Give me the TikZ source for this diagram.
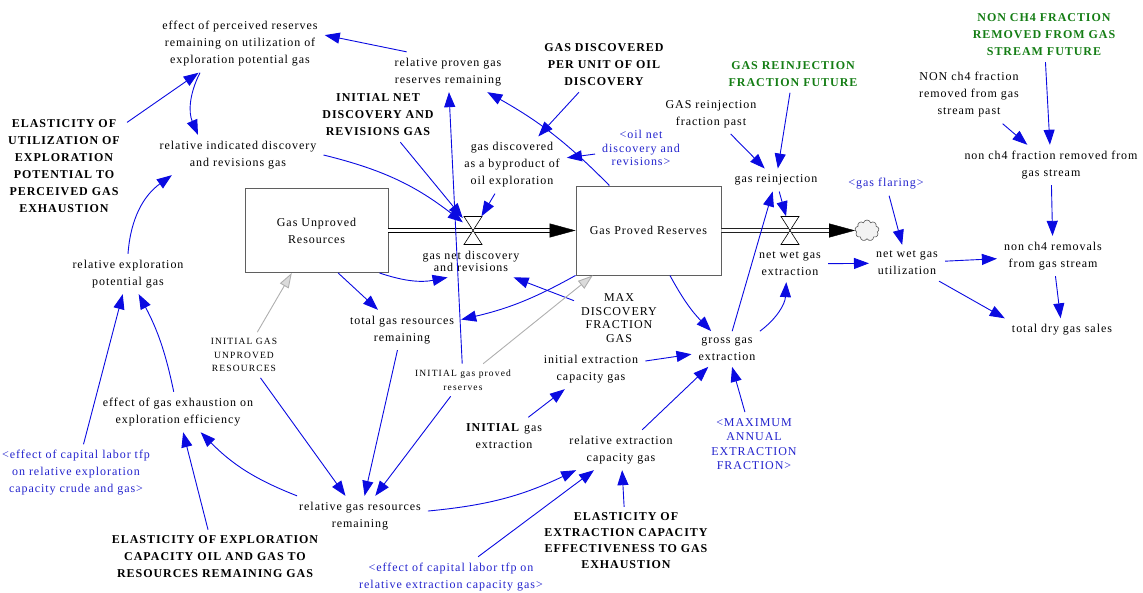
\documentclass[tikz,border=0pt]{standalone}
\usepackage{fontspec}
\setmainfont{Liberation Serif}[LetterSpace=8]
\usetikzlibrary{arrows.meta,shapes.symbols}
\definecolor{linkblue}{RGB}{10,10,225}
\definecolor{shadowblue}{RGB}{35,35,205}
\definecolor{auxgreen}{RGB}{20,125,20}
\definecolor{stockgray}{RGB}{95,95,95}
\definecolor{initgray}{RGB}{175,175,175}
\tikzset{
  lbl/.style={align=center, inner xsep=7pt, inner ysep=6pt, font=\fontsize{12}{17}\selectfont},
  lblb/.style={lbl, font=\fontsize{12}{17}\selectfont\bfseries},
  lblg/.style={lblb, text=auxgreen},
  lbls/.style={lbl, text=shadowblue},
  lblc/.style={lbl, font=\fontsize{12}{13.5}\selectfont},
  lblsc/.style={lbl, text=shadowblue, font=\fontsize{12}{14.5}\selectfont},
  lblsm/.style={lbl, font=\fontsize{9.5}{13.5}\selectfont\addfontfeatures{LetterSpace=12}},
  stock/.style={draw=stockgray, line width=0.9pt, fill=white, align=center, inner sep=0pt, font=\fontsize{12}{17}\selectfont},
  valvebox/.style={minimum width=20pt, minimum height=28pt, inner sep=0pt},
  link/.style={draw=linkblue, line width=0.9pt, -{Triangle[length=15pt,width=11pt]}},
  initlink/.style={draw=initgray, line width=0.9pt, -{Triangle[length=15pt,width=10pt,fill=initgray!45]}},
  pipe/.style={draw=black, double=white, double distance=3.2pt, line width=0.8pt},
  flowtip/.style={-{Triangle[length=26pt,width=14pt]}, line width=0.4pt, black},
}
\begin{document}
\begin{tikzpicture}[x=1pt,y=-1pt]
\useasboundingbox (0,0) rectangle (1143,592);
% stocks, valves, cloud
\node[stock, minimum width=143pt, minimum height=84pt] (gur) at (316.5,230.5) {Gas Unproved\\Resources};
\node[stock, minimum width=145pt, minimum height=89pt] (gpr) at (648.5,230.5) {Gas Proved Reserves};
\node[valvebox] (v1) at (473,230.5) {};
\node[valvebox] (v2) at (790,230.5) {};
\node[cloud, cloud puffs=9, draw=gray!70!black, fill=gray!10, minimum width=24pt, minimum height=21pt, inner sep=0pt, line width=0.6pt] (cl) at (867,230.5) {};
% pipes
\draw[pipe] (gur.east) -- ([xshift=-18pt]gpr.west);
\draw[flowtip] ([xshift=-26pt]gpr.west) -- (gpr.west);
\draw[pipe] (gpr.east) -- ([xshift=-18pt]cl.west);
\draw[flowtip] ([xshift=-26pt]cl.west) -- (cl.west);
\foreach \v in {v1,v2}{
  \draw[fill=white, line width=0.6pt] ([shift={(-9,-14)}]\v.center) -- ([shift={(9,-14)}]\v.center) -- ([shift={(-9,14)}]\v.center) -- ([shift={(9,14)}]\v.center) -- cycle;
}
% labels
\node[lbl] (epr) at (240,44) {effect of perceived reserves\\remaining on utilization of\\exploration potential gas};
\node[lbl] (rid) at (238,155) {relative indicated discovery\\and revisions gas};
\node[lblb] (eu) at (64,166) {ELASTICITY OF\\UTILIZATION OF\\EXPLORATION\\POTENTIAL TO\\PERCEIVED GAS\\EXHAUSTION};
\node[lbl] (rep) at (128,274) {relative exploration\\potential gas};
\node[lbl] (ege) at (178,412) {effect of gas exhaustion on\\exploration efficiency};
\node[lbls] (ecl1) at (76,473) {<effect of capital labor tfp\\on relative exploration\\capacity crude and gas>};
\node[lblb] (eec) at (215,557) {ELASTICITY OF EXPLORATION\\CAPACITY OIL AND GAS TO\\RESOURCES REMAINING GAS};
\node[lbl] (rgr) at (360,516) {relative gas resources\\remaining};
\node[lbls] (ecl2) at (451,577) {<effect of capital labor tfp on\\relative extraction capacity gas>};
\node[lblb, font=\fontsize{12}{16}\selectfont\bfseries] (eex) at (626,541) {ELASTICITY OF\\EXTRACTION CAPACITY\\EFFECTIVENESS TO GAS\\EXHAUSTION};
\node[lbl] (rec) at (621,450) {relative extraction\\capacity gas};
\node[lbl] (ige) at (504,436) {\textbf{INITIAL} gas\\extraction};
\node[lbl] (iec) at (591,369) {initial extraction\\capacity gas};
\node[lblc] (mdf) at (619,318) {MAX\\DISCOVERY\\FRACTION\\GAS};
\node[lbl] (gge) at (727,349) {gross gas\\extraction};
\node[lblsc] (maef) at (754,444) {<MAXIMUM\\ANNUAL\\EXTRACTION\\FRACTION>};
\node[lblsm] (igpr) at (463,380) {INITIAL gas proved\\reserves};
\node[lblsm] (igur) at (244,355) {INITIAL GAS\\UNPROVED\\RESOURCES};
\node[lbl] (tgr) at (402,330) {total gas resources\\remaining};
\node[lbl, font=\fontsize{12}{12}\selectfont] (gnd) at (471,261) {gas net discovery\\and revisions};
\node[lbl] (nwe) at (790,264) {net wet gas\\extraction};
\node[lbl] (nwu) at (907,263) {net wet gas\\utilization};
\node[lbls] (gf) at (886,184) {<gas flaring>};
\node[lbl] (gr) at (776,180) {gas reinjection};
\node[lbl] (grp) at (711,114) {GAS reinjection\\fraction past};
\node[lblg] (grf) at (793,74) {GAS REINJECTION\\FRACTION FUTURE};
\node[lbl] (ncp) at (969,95) {NON ch4 fraction\\removed from gas\\stream past};
\node[lblg] (ncf) at (1044,35) {NON CH4 FRACTION\\REMOVED FROM GAS\\STREAM FUTURE};
\node[lbl] (ncr) at (1051,165) {non ch4 fraction removed from\\gas stream};
\node[lbl] (ncrm) at (1053,256) {non ch4 removals\\from gas stream};
\node[lbl] (tdg) at (1062,330) {total dry gas sales};
\node[lbl] (rpg) at (448,72) {relative proven gas\\reserves remaining};
\node[lblb] (gdp) at (604,65) {GAS DISCOVERED\\PER UNIT OF OIL\\DISCOVERY};
\node[lblb] (ind) at (378,115) {INITIAL NET\\DISCOVERY AND\\REVISIONS GAS};
\node[lbl] (gdb) at (512,165) {gas discovered\\as a byproduct of\\oil exploration};
\node[lbls, font=\fontsize{12}{13.5}\selectfont] (onr) at (641,148) {<oil net\\discovery and\\revisions>};
% connectors
\draw[link] (rpg.154) -- (epr.6);
\draw[link] ([xshift=-40pt]epr.south) to[bend right=25] ([xshift=-40pt]rid.north);
\draw[link] (eu) -- (epr);
\draw[link] (rep.north) to[bend left=25] (rid);
\draw[link] (ege) to[bend right=8] (rep);
\draw[link] (ecl1) -- (rep);
\draw[link] (eec) -- (ege);
\draw[link] (rgr) to[bend left=12] (ege);
\draw[link] (igur) -- (rgr);
\draw[link] (tgr) -- (rgr);
\draw[link] (igpr) -- (rgr);
\draw[link] (rgr) to[bend right=10] (rec);
\draw[link] (ecl2) -- (rec);
\draw[link] (eex) -- (rec);
\draw[link] (rec) -- (gge);
\draw[link] (ige) -- (iec);
\draw[link] (iec) -- (gge);
\draw[link] (maef) -- (gge);
\draw[link] (gpr) to[bend right=8] (gge);
\draw[link] (gge) to[bend right=25] (nwe);
\draw[link] (gge) -- (gr);
\draw[link] (gr) -- (v2);
\draw[link] (grp) -- (gr);
\draw[link] (grf) -- (gr);
\draw[link] (nwe) -- (nwu);
\draw[link] (gf) -- (nwu);
\draw[link] (nwu) -- (ncrm);
\draw[link] (nwu) -- (tdg.north west);
\draw[link] (ncrm) -- (tdg);
\draw[link] (ncr) -- (ncrm);
\draw[link] (ncp) -- (ncr);
\draw[link] (ncf) -- (ncr);
\draw[link] (gur.-34) to[bend right=15] (gnd.-145);
\draw[link] (gur.-63) -- (tgr.140);
\draw[link] (gpr.south west) to[bend left=8] (tgr.10);
\draw[link] (mdf) -- (gnd);
\draw[initlink] (igpr) -- (gpr);
\draw[initlink] (igur) -- (gur);
\draw[link] (igpr) -- (rpg);
\draw[link] (gpr.131) to[bend right=8] (rpg);
\draw[link] (gdp) -- (gdb);
\draw[link] (onr) -- (gdb);
\draw[link] (gdb) -- (v1);
\draw[link] (ind) -- (v1);
\draw[link] (rid.east) to[bend left=12] (v1);
\end{tikzpicture}
\end{document}
